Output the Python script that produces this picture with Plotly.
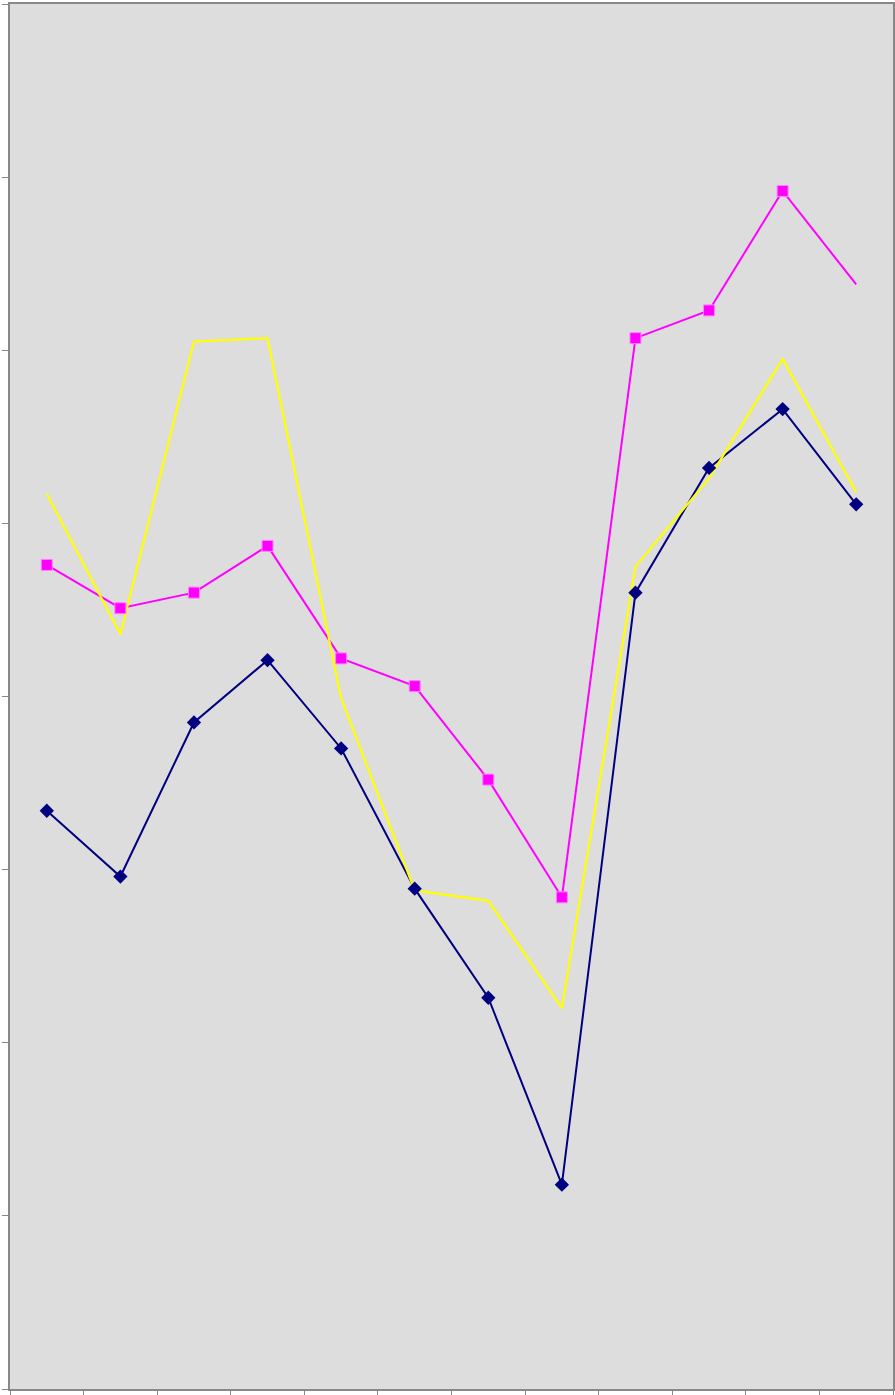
import plotly.graph_objects as go

categories = [str(i) for i in range(1, 13)]
navy_values = [3.34, 2.96, 3.85, 4.21, 3.70, 2.89, 2.26, 1.18, 4.60, 5.32, 5.66, 5.11]
magenta_values = [4.76, 4.51, 4.60, 4.87, 4.22, 4.06, 3.52, 2.84, 6.07, 6.23, 6.92, 6.38]
yellow_values = [5.17, 4.36, 6.05, 6.07, 3.99, 2.88, 2.82, 2.20, 4.75, 5.26, 5.95, 5.18]
y_ticks = [0, 1, 2, 3, 4, 5, 6, 7, 8]

NAVY = "#000080"
MAGENTA = "#ff00ff"
YELLOW = "#ffff00"

fig = go.Figure()
# lines
fig.add_trace(go.Scatter(x=categories, y=navy_values, mode="lines",
                         line=dict(color=NAVY, width=2), showlegend=False))
fig.add_trace(go.Scatter(x=categories, y=magenta_values, mode="lines",
                         line=dict(color=MAGENTA, width=2), showlegend=False))
fig.add_trace(go.Scatter(x=categories, y=yellow_values, mode="lines",
                         line=dict(color=YELLOW, width=2.2), showlegend=False))
# markers on top
fig.add_trace(go.Scatter(x=categories[:-1], y=magenta_values[:-1], mode="markers",
                         marker=dict(symbol="square", size=11, color=MAGENTA,
                                     line=dict(color="#ff80ff", width=1)),
                         showlegend=False))
fig.add_trace(go.Scatter(x=categories, y=navy_values, mode="markers",
                         marker=dict(symbol="diamond", size=11, color=NAVY,
                                     line=dict(color=NAVY, width=0)),
                         showlegend=False))

fig.update_layout(
    width=895, height=1395,
    margin=dict(l=10, r=0, t=4, b=6),
    paper_bgcolor="white",
    plot_bgcolor="#dddddd",
    showlegend=False,
)
fig.update_xaxes(
    type="category", range=[-0.5, 11.5],
    showgrid=False, zeroline=False,
    showline=True, linecolor="#888888", linewidth=2, mirror=True,
    ticks="outside", tickson="boundaries", ticklen=6, tickcolor="#888888", tickwidth=1,
    showticklabels=False,
)
fig.update_yaxes(
    range=[0, 8], tickvals=y_ticks,
    showgrid=False, zeroline=False,
    showline=True, linecolor="#888888", linewidth=2, mirror=True,
    ticks="outside", ticklen=6, tickcolor="#888888", tickwidth=1,
    showticklabels=False,
)

fig.write_html("out.html")
